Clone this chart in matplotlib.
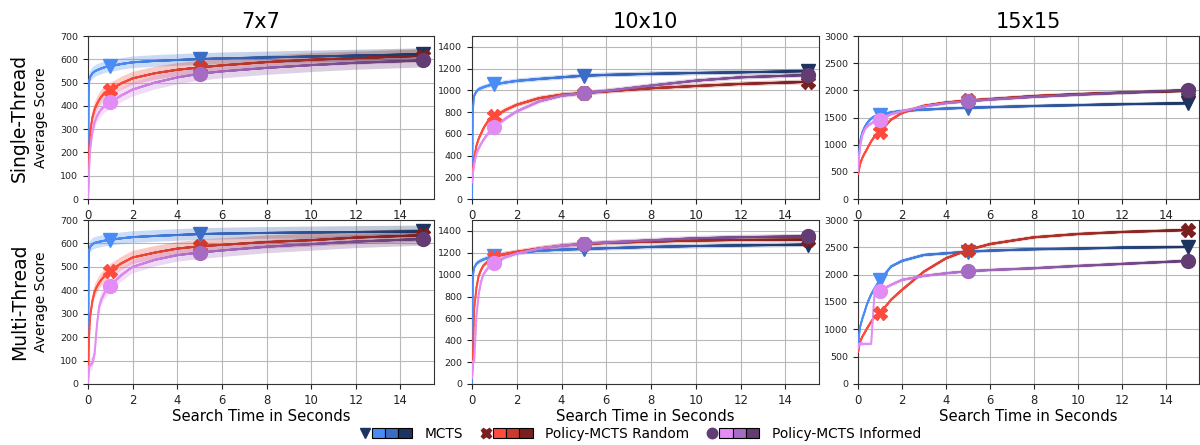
import numpy as np
import matplotlib.pyplot as plt
from matplotlib.collections import LineCollection
from matplotlib.colors import LinearSegmentedColormap
from matplotlib.lines import Line2D
from matplotlib.patches import Patch
from matplotlib.legend_handler import HandlerTuple

plt.rcParams['font.family'] = ['DejaVu Sans']

# search time grid (seconds) shared by all curves
T = [0, 0.05, 0.1, 0.2, 0.3, 0.4, 0.5, 0.6, 0.75, 1, 1.5, 2, 3, 4, 5, 6, 8, 10, 12, 15]

# 7x7, single thread
st7_mcts = [0, 505, 525, 540, 548, 553, 557, 561, 566, 570, 580, 587, 593, 597, 601, 604, 608, 612, 616, 622]
st7_random = [0, 200, 290, 350, 385, 408, 425, 440, 456, 470, 497, 518, 540, 555, 565, 574, 588, 598, 605, 615]
st7_informed = [0, 125, 215, 290, 330, 355, 372, 386, 400, 415, 445, 470, 500, 522, 538, 548, 563, 575, 585, 595]
# 10x10, single thread
st10_mcts = [0, 850, 950, 990, 1010, 1020, 1028, 1035, 1045, 1055, 1072, 1087, 1105, 1120, 1135, 1142, 1152, 1160, 1166, 1177]
st10_random = [150, 280, 380, 490, 555, 600, 645, 680, 725, 760, 820, 867, 928, 960, 975, 990, 1019, 1040, 1059, 1078]
st10_informed = [150, 250, 320, 420, 465, 505, 540, 570, 610, 660, 740, 806, 898, 950, 974, 995, 1044, 1089, 1120, 1141]
# 15x15, single thread
st15_mcts = [480, 840, 1070, 1230, 1320, 1390, 1440, 1480, 1520, 1546, 1595, 1620, 1645, 1665, 1680, 1690, 1712, 1728, 1745, 1762]
st15_random = [450, 550, 650, 760, 840, 910, 990, 1060, 1150, 1240, 1460, 1585, 1716, 1777, 1813, 1840, 1895, 1930, 1959, 1990]
st15_informed = [500, 780, 980, 1180, 1270, 1330, 1362, 1390, 1425, 1455, 1560, 1615, 1704, 1765, 1800, 1830, 1880, 1920, 1955, 2005]
# 7x7, multi thread
mt7_mcts = [0, 570, 586, 597, 602, 605, 607, 609, 612, 615, 622, 627, 632, 636, 640, 642, 645, 647, 649, 651]
mt7_random = [0, 200, 290, 355, 395, 415, 432, 445, 462, 484, 515, 540, 561, 578, 588, 594, 606, 614, 625, 635]
mt7_informed = [0, 75, 80, 90, 130, 250, 330, 360, 390, 419, 465, 500, 530, 550, 561, 570, 586, 597, 608, 619]
# 10x10, multi thread
mt10_mcts = [0, 1000, 1065, 1100, 1117, 1128, 1138, 1145, 1157, 1169, 1188, 1202, 1218, 1229, 1235, 1242, 1254, 1262, 1268, 1275]
mt10_random = [50, 313, 690, 880, 990, 1040, 1080, 1100, 1125, 1163, 1190, 1209, 1240, 1265, 1280, 1290, 1302, 1312, 1318, 1321]
mt10_informed = [50, 206, 206, 620, 820, 930, 996, 1030, 1070, 1108, 1160, 1193, 1238, 1265, 1283, 1295, 1315, 1333, 1343, 1351]
# 15x15, multi thread
mt15_mcts = [600, 900, 1053, 1200, 1320, 1450, 1550, 1640, 1750, 1900, 2148, 2252, 2361, 2391, 2420, 2440, 2465, 2478, 2495, 2507]
mt15_random = [580, 680, 779, 870, 935, 1010, 1075, 1140, 1225, 1296, 1540, 1722, 2057, 2300, 2452, 2560, 2684, 2744, 2781, 2817]
mt15_informed = [650, 735, 738, 740, 740, 740, 740, 740, 1660, 1710, 1813, 1905, 1978, 2026, 2063, 2085, 2118, 2160, 2197, 2252]

# half width of the shaded band for (mcts, random, informed) in each panel
band_st = [[25, 28, 30], [22, 22, 22], [35, 35, 35]]
band_mt = [[25, 28, 28], [22, 22, 22], [35, 35, 35]]

boards = ['7x7', '10x10', '15x15']
ylims = [700, 1500, 3000]
ytops = [700, 1400, 3000]   # last labelled tick
ysteps = [100, 200, 500]
marker_times = [1, 5, 15]

names = ['MCTS', 'Policy-MCTS Random', 'Policy-MCTS Informed']
markers = ['v', 'X', 'o']
shades = [['#4a8cf5', '#3b6cc6', '#1d3461'],
          ['#ff4a3d', '#cc3a2e', '#7a1f1f'],
          ['#e48cf5', '#a66bc3', '#643c74']]

data = [[[st7_mcts, st7_random, st7_informed],
         [st10_mcts, st10_random, st10_informed],
         [st15_mcts, st15_random, st15_informed]],
        [[mt7_mcts, mt7_random, mt7_informed],
         [mt10_mcts, mt10_random, mt10_informed],
         [mt15_mcts, mt15_random, mt15_informed]]]
bands = [band_st, band_mt]


def draw_series(ax, y, half, cols, marker, ytop):
    t = np.array(T, dtype=float)
    y = np.array(y, dtype=float)
    cmap = LinearSegmentedColormap.from_list(
        'g', list(zip([0, 1 / 15, 5 / 15, 1], [cols[0], cols[0], cols[1], cols[2]])))

    # shaded band with a colour gradient along time
    poly = ax.fill_between(t, y - half, y + half, facecolor='none', edgecolor='none')
    im = ax.imshow(np.linspace(0, 1, 300).reshape(1, -1), extent=[0, 15, -500, ytop + 500],
                   aspect='auto', cmap=cmap, alpha=0.28, origin='lower', zorder=1)
    im.set_clip_path(poly.get_paths()[0], ax.transData)

    # line coloured by time
    tt = np.linspace(0, 15, 1501)
    yy = np.interp(tt, t, y)
    pts = np.column_stack([tt, yy])
    segs = np.stack([pts[:-1], pts[1:]], axis=1)
    lc = LineCollection(segs, cmap=cmap, norm=plt.Normalize(0, 15), linewidth=1.4,
                        capstyle='round', zorder=3)
    lc.set_array((tt[:-1] + tt[1:]) / 2)
    ax.add_collection(lc)

    for mt, c in zip(marker_times, cols):
        ax.plot(mt, y[T.index(mt)], marker=marker, color=c, markersize=10,
                linestyle='none', zorder=4)


fig = plt.figure(figsize=(12, 4.45), dpi=100)
lefts = [0.0733, 0.3933, 0.715]
widths = [0.2883, 0.2892, 0.2842]
bottoms = [0.5528, 0.1371]
heights = [0.3663, 0.3685]

for r in range(2):
    for c in range(3):
        ax = fig.add_axes([lefts[c], bottoms[r], widths[c], heights[r]])
        for s in range(3):
            draw_series(ax, data[r][c][s], bands[r][c][s], shades[s], markers[s], ylims[c])
        ax.set_xlim(0, 15.5)
        ax.set_ylim(0, ylims[c])
        ax.set_xticks(range(0, 15, 2))
        ax.set_yticks(range(0, ytops[c] + 1, ysteps[c]))
        ax.grid(True, color='#b8b8b8', linewidth=0.8)
        ax.set_axisbelow(True)
        ax.tick_params(axis='x', labelsize=8.4, colors='#222222')
        ax.tick_params(axis='y', labelsize=6.8, colors='#222222')
        for sp in ax.spines.values():
            sp.set_color('#333333')
        if r == 0:
            ax.set_title(boards[c], fontsize=15, pad=6)
        else:
            ax.set_xlabel('Search Time in Seconds', fontsize=10.7, labelpad=2)
        if c == 0:
            ax.set_ylabel('Average Score', fontsize=10, labelpad=9)

fig.text(0.016, 0.736, 'Single-Thread', rotation=90, fontsize=13.5, ha='center', va='center')
fig.text(0.016, 0.321, 'Multi-Thread', rotation=90, fontsize=13.5, ha='center', va='center')

handles = []
for s in range(3):
    handles.append((Line2D([], [], marker=markers[s], color=shades[s][2], linestyle='none', markersize=7.5),
                    Patch(facecolor=shades[s][0], edgecolor='black', linewidth=0.8),
                    Patch(facecolor=shades[s][1], edgecolor='black', linewidth=0.8),
                    Patch(facecolor=shades[s][2], edgecolor='black', linewidth=0.8)))
fig.legend(handles, names, handler_map={tuple: HandlerTuple(ndivide=None, pad=0)},
           loc='lower center', bbox_to_anchor=(0.533, -0.018), ncol=3, frameon=False,
           fontsize=9.9, handlelength=3.9, handleheight=0.8, handletextpad=0.9,
           columnspacing=1.2)

plt.savefig('out.png', dpi=100)
